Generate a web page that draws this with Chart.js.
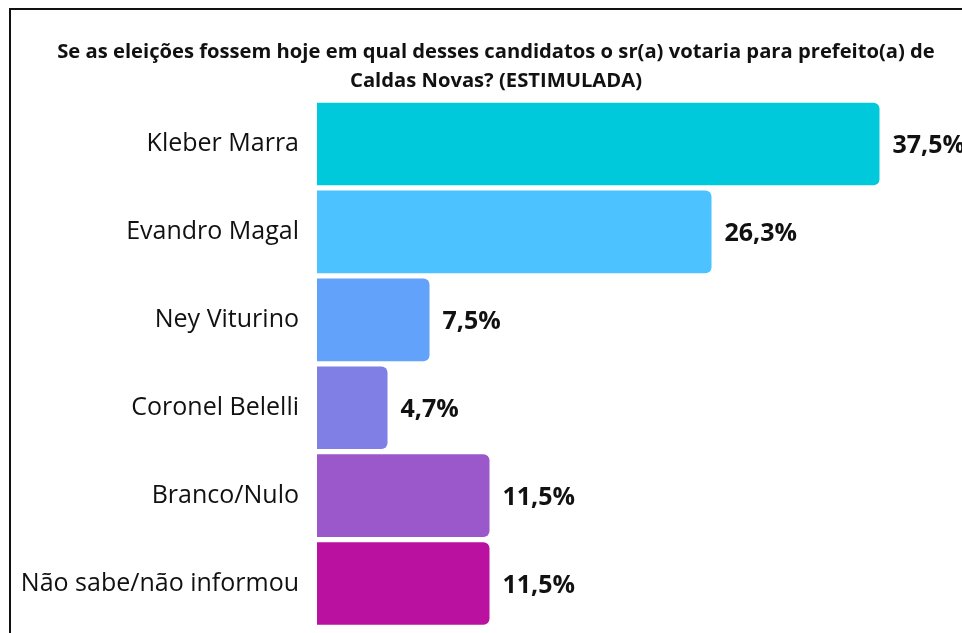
<!DOCTYPE html>
<html>
<head>
<meta charset="utf-8">
<script src="https://cdn.jsdelivr.net/npm/chart.js@4"></script>
<style>
  html, body { margin: 0; padding: 0; background: #fff; overflow: hidden; }
  #grafico { position: absolute; left: 0; top: 0; }
  #frame {
    position: absolute; left: 9px; top: 8px; width: 960px; height: 630px;
    border-left: 2px solid #111; border-top: 2px solid #111; pointer-events: none;
  }
</style>
</head>
<body>
<canvas id="grafico" width="992" height="633"></canvas>
<div id="frame"></div>
<script>
const candidatos = [
  'Kleber Marra',
  'Evandro Magal',
  'Ney Viturino',
  'Coronel Belelli',
  'Branco/Nulo',
  'Não sabe/não informou'
];
const percentuais = [37.5, 26.3, 7.5, 4.7, 11.5, 11.5];
const cores = ['#00C9DB', '#4CC3FE', '#62A2FA', '#7F7FE6', '#9A58CA', '#BB11A0'];
const titulo = [
  'Se as eleições fossem hoje em qual desses candidatos o sr(a) votaria para prefeito(a) de',
  'Caldas Novas? (ESTIMULADA)'
];

//escreve o valor na ponta de cada barra
const rotulos = {
  id: 'rotulos',
  afterDatasetsDraw(chart) {
    const ctx = chart.ctx;
    ctx.save();
    ctx.font = 'bold 25px "Open Sans"';
    ctx.fillStyle = '#111';
    ctx.textAlign = 'left';
    ctx.textBaseline = 'middle';
    chart.getDatasetMeta(0).data.forEach((bar, i) => {
      const txt = percentuais[i].toFixed(1).replace('.', ',') + '%';
      ctx.fillText(txt, bar.x + 13, bar.y + 2);
    });
    ctx.restore();
  }
};

new Chart(document.getElementById('grafico'), {
  type: 'bar',
  data: {
    labels: candidatos,
    datasets: [
      {
        data: percentuais,
        backgroundColor: cores,
        borderRadius: 6,
        categoryPercentage: 1,
        barPercentage: 0.94
      }
    ]
  },
  options: {
    indexAxis: 'y',
    responsive: false,
    animation: false,
    layout: { padding: { top: 0, bottom: 5.5, left: 0, right: 0 } },
    plugins: {
      legend: { display: false },
      tooltip: { enabled: false },
      title: {
        display: true,
        text: titulo,
        color: '#111',
        font: { family: 'Open Sans', size: 20.2, weight: 'bold', lineHeight: 1.4 },
        padding: { top: 38.5, bottom: 5 }
      }
    },
    scales: {
      x: { display: false, min: 0, max: 45 },
      y: {
        grid: { display: false, drawTicks: false },
        border: { display: false },
        ticks: {
          color: '#111',
          padding: 18,
          font: { family: 'Open Sans', size: 25 }
        },
        afterFit(scale) {
          scale.width = 317;
          //sem folga extra em cima/embaixo por causa dos rótulos
          scale.paddingTop = 0;
          scale.paddingBottom = 0;
        }
      }
    }
  },
  plugins: [rotulos]
});
</script>
</body>
</html>
